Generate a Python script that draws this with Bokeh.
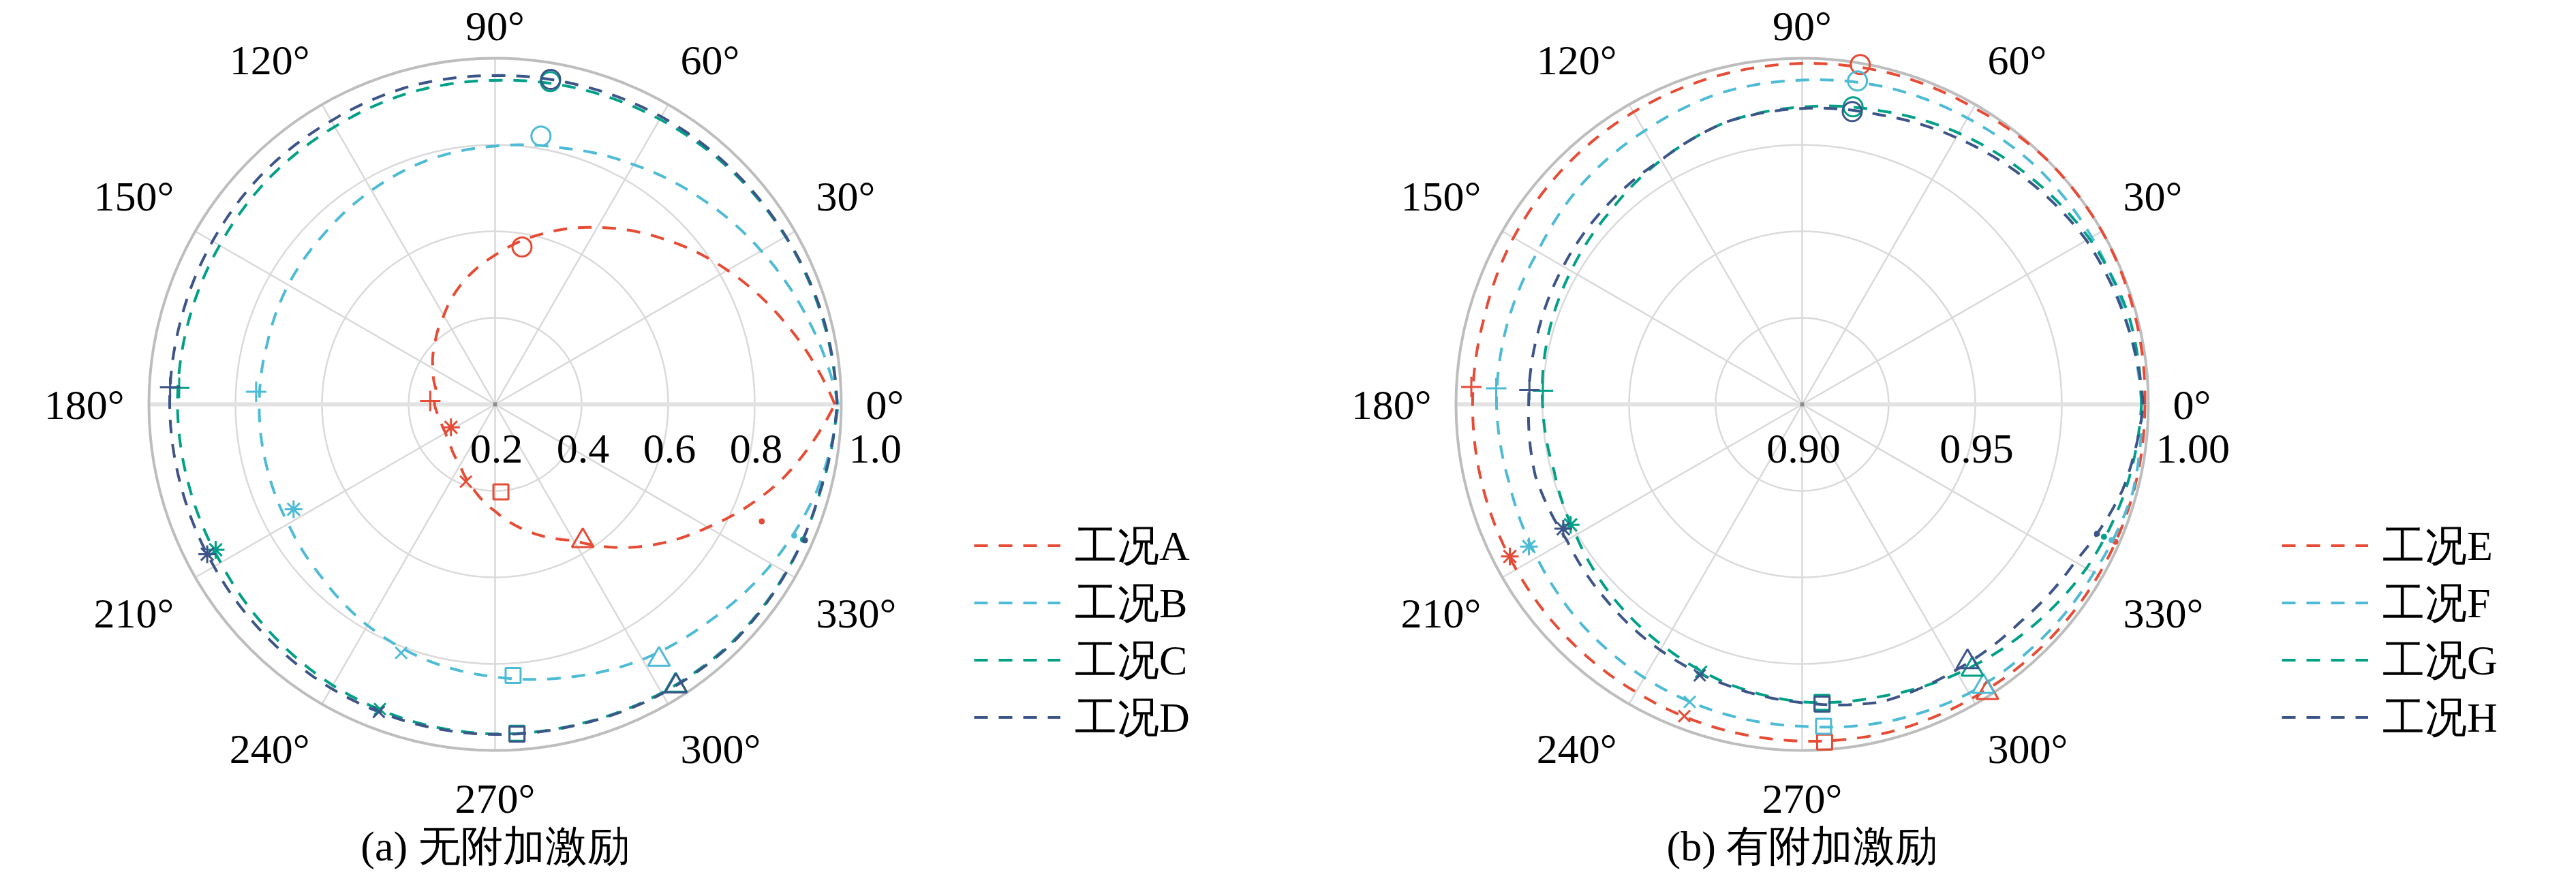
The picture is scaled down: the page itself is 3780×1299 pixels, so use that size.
import math
from bokeh.plotting import figure
from bokeh.models import Range1d, Legend, LegendItem
from bokeh.embed import file_html
from bokeh.resources import INLINE
from bokeh.core.properties import value

# ---------------- data ----------------
theta_deg = [0, 15, 30, 45, 60, 75, 90, 105, 120, 135, 150, 165,
             180, 195, 210, 225, 240, 255, 270, 285, 300, 315, 330, 345]

# (a) without additional excitation, radius axis 0.2 .. 1.0
r_A = [0.985, 0.900, 0.820, 0.743, 0.672, 0.607, 0.545, 0.491, 0.437, 0.397, 0.366, 0.342,
       0.340, 0.332, 0.332, 0.343, 0.362, 0.400, 0.447, 0.505, 0.563, 0.666, 0.768, 0.883]
r_B = [0.993, 0.950, 0.910, 0.873, 0.840, 0.813, 0.797, 0.786, 0.771, 0.758, 0.752, 0.745,
       0.745, 0.747, 0.752, 0.766, 0.790, 0.812, 0.830, 0.853, 0.881, 0.905, 0.938, 0.970]
r_C = [0.990, 0.982, 0.975, 0.968, 0.961, 0.955, 0.949, 0.947, 0.941, 0.939, 0.935, 0.934,
       0.934, 0.932, 0.932, 0.940, 0.950, 0.957, 0.962, 0.964, 0.970, 0.976, 0.976, 0.978]
r_D = [0.990, 0.984, 0.976, 0.971, 0.968, 0.963, 0.960, 0.961, 0.957, 0.957, 0.954, 0.952,
       0.952, 0.950, 0.950, 0.953, 0.958, 0.961, 0.963, 0.965, 0.972, 0.978, 0.977, 0.977]

# (b) with additional excitation, radius axis 0.90 .. 1.00
r_E = [0.9990, 0.9995, 1.0000, 1.0000, 0.9990, 0.9990, 0.9985, 0.9980, 0.9975, 0.9970, 0.9963, 0.9952,
       0.9952, 0.9953, 0.9954, 0.9957, 0.9960, 0.9967, 0.9973, 0.9980, 0.9981, 0.9985, 0.9988, 0.9990]
r_F = [0.9980, 0.9967, 0.9966, 0.9964, 0.9955, 0.9948, 0.9937, 0.9930, 0.9912, 0.9900, 0.9882, 0.9883,
       0.9883, 0.9876, 0.9885, 0.9900, 0.9912, 0.9922, 0.9930, 0.9949, 0.9964, 0.9968, 0.9973, 0.9988]
r_G = [0.9980, 0.9978, 0.9958, 0.9930, 0.9905, 0.9878, 0.9859, 0.9845, 0.9815, 0.9786, 0.9771, 0.9760,
       0.9750, 0.9742, 0.9755, 0.9780, 0.9805, 0.9835, 0.9860, 0.9874, 0.9898, 0.9922, 0.9948, 0.9966]
r_H = [0.9985, 0.9965, 0.9948, 0.9918, 0.9890, 0.9866, 0.9855, 0.9845, 0.9815, 0.9805, 0.9797, 0.9791,
       0.9790, 0.9798, 0.9785, 0.9800, 0.9820, 0.9840, 0.9862, 0.9890, 0.9887, 0.9890, 0.9910, 0.9958]

# marker positions (angle in degrees) and marker radii per series
marker_theta = [80.3, 177.0, 207.5, 249.3, 273.8, 302.7, 336.3]
marker_kinds = ["circle", "cross", "asterisk", "x", "square", "triangle", "dot"]
mk_A = [0.569, 0.350, 0.315, 0.391, 0.403, 0.575, 0.873]
mk_B = [0.829, 0.753, 0.725, 0.814, 0.828, 0.901, 0.955]
mk_C = [0.957, 0.931, 0.928, 0.953, 0.962, 0.972, 0.977]
mk_D = [0.962, 0.952, 0.950, 0.960, 0.964, 0.974, 0.982]
mk_E = [0.9996, 0.9957, 0.9952, 0.9963, 0.9978, 0.9990, 0.9988]
mk_F = [0.9948, 0.9885, 0.9890, 0.9919, 0.9932, 0.9969, 0.9976]
mk_G = [0.9872, 0.9750, 0.9754, 0.9826, 0.9863, 0.9910, 0.9952]
mk_H = [0.9858, 0.9789, 0.9778, 0.9837, 0.9868, 0.9884, 0.9930]

angle_ticks = [0, 30, 60, 90, 120, 150, 180, 210, 240, 270, 300, 330]
angle_labels = ["0°", "30°", "60°", "90°", "120°", "150°", "180°", "210°", "240°", "270°", "300°", "330°"]

rgrid_left = [0.4, 0.6, 0.8, 1.0]
rticks_left = [0.2, 0.4, 0.6, 0.8, 1.0]
rlabels_left = ["0.2", "0.4", "0.6", "0.8", "1.0"]
rgrid_right = [0.925, 0.95, 0.975, 1.0]
rticks_right = [0.90, 0.95, 1.00]
rlabels_right = ["0.90", "0.95", "1.00"]

names_left = ["工况A", "工况B", "工况C", "工况D"]
names_right = ["工况E", "工况F", "工况G", "工况H"]
colors = ["#E64B35", "#4DBBD5", "#00A087", "#3C5488"]
titles = ["(a) 无附加激励", "(b) 有附加激励"]

# ---------------- layout ----------------
W, H, M = 3762, 1281, 8
FONT = "Liberation Serif"


def to_data(px, py):
    return px - M, (H + M) - py


p = figure(width=W, height=H, output_backend="svg", toolbar_location=None,
           x_range=Range1d(0, W), y_range=Range1d(0, H),
           x_axis_location=None, y_axis_location=None, min_border=0)
p.grid.visible = False
p.outline_line_color = None
p.background_fill_color = "white"
p.border_fill_color = "white"

lcx, lcy = to_data(734, 601)
rcx, rcy = to_data(2652, 601)
charts = [
    dict(cx=lcx, cy=lcy, R=508, rmin=0.2, rmax=1.0, rgrid=rgrid_left, rticks=rticks_left,
         rlabels=rlabels_left, series=[r_A, r_B, r_C, r_D], marks=[mk_A, mk_B, mk_C, mk_D],
         names=names_left, title=titles[0], title_px=734, leg_x=1437, leg_top=818.5),
    dict(cx=rcx, cy=rcy, R=508, rmin=0.9, rmax=1.0, rgrid=rgrid_right, rticks=rticks_right,
         rlabels=rlabels_right, series=[r_E, r_F, r_G, r_H], marks=[mk_E, mk_F, mk_G, mk_H],
         names=names_right, title=titles[1], title_px=2652, leg_x=3356, leg_top=818.5),
]


def polar_xy(ch, ths, rs):
    xs, ys = [], []
    for t, r in zip(ths, rs):
        rr = (r - ch["rmin"]) / (ch["rmax"] - ch["rmin"]) * ch["R"]
        a = math.radians(t)
        xs.append(ch["cx"] + rr * math.cos(a))
        ys.append(ch["cy"] + rr * math.sin(a))
    return xs, ys


def closed_path(ch, ths, rs, steps=12):
    # path drawn in polar space between successive data points (polar projection)
    n = len(ths)
    pt, pr = [], []
    for i in range(n):
        t0, r0 = ths[i], rs[i]
        t1 = ths[(i + 1) % n] + (360 if i == n - 1 else 0)
        r1 = rs[(i + 1) % n]
        for k in range(steps):
            f = k / steps
            pt.append(t0 + (t1 - t0) * f)
            pr.append(r0 + (r1 - r0) * f)
    pt.append(ths[0] + 360)
    pr.append(rs[0])
    return polar_xy(ch, pt, pr)


for ch in charts:
    cx, cy, R = ch["cx"], ch["cy"], ch["R"]
    # inner rings
    inner = [(g - ch["rmin"]) / (ch["rmax"] - ch["rmin"]) * R for g in ch["rgrid"][:-1]]
    p.circle(x=[cx] * len(inner), y=[cy] * len(inner), radius=inner,
             fill_color=None, line_color="#dadada", line_width=2.5)
    # spokes
    sx0, sy0, sx1, sy1 = [], [], [], []
    for a in angle_ticks:
        if a in (0, 180):
            continue
        ra = math.radians(a)
        sx0.append(cx); sy0.append(cy)
        sx1.append(cx + R * math.cos(ra)); sy1.append(cy + R * math.sin(ra))
    p.segment(x0=sx0, y0=sy0, x1=sx1, y1=sy1, line_color="#d9d9d9", line_width=2.5)
    p.segment(x0=[cx - R], y0=[cy], x1=[cx + R], y1=[cy], line_color="#e2e2e2", line_width=6)
    # outer ring
    p.circle(x=[cx], y=[cy], radius=[R], fill_color=None, line_color="#bdbdbd", line_width=4)
    p.scatter(x=[cx], y=[cy], marker="square", size=6, fill_color="#8c8c8c", line_color=None)

    # curves
    renderers = []
    for rs, col in zip(ch["series"], colors):
        xs, ys = closed_path(ch, theta_deg, rs)
        rend = p.line(xs, ys, line_color=col, line_width=4, line_dash="20 16")
        renderers.append(rend)
    # markers
    for mk, col in zip(ch["marks"], colors):
        mx, my = polar_xy(ch, marker_theta, mk)
        for x, y, kind in zip(mx, my, marker_kinds):
            if kind == "dot":
                p.scatter(x=[x], y=[y], marker="circle", size=8, fill_color=col, line_color=col)
            else:
                size = {"circle": 28, "cross": 30, "asterisk": 26, "x": 24,
                        "square": 22, "triangle": 32}[kind]
                p.scatter(x=[x], y=[y], marker=kind, size=size, fill_color=None,
                          line_color=col, line_width=3)

    # angular labels
    for a, lab in zip(angle_ticks, angle_labels):
        ra = math.radians(a)
        c, s = math.cos(ra), math.sin(ra)
        RL = R + 14 if a == 90 else R + 36
        align = "left" if c > 0.1 else ("right" if c < -0.1 else "center")
        base = "bottom" if s > 0.1 else ("top" if s < -0.1 else "middle")
        p.text(x=[cx + RL * c], y=[cy + RL * s], text=[lab], text_align=align,
               text_baseline=base, text_font=value(FONT), text_font_size=value("62px"),
               text_color="black")

    # radial tick labels
    n = len(ch["rticks"])
    for i, (rv, lab) in enumerate(zip(ch["rticks"], ch["rlabels"])):
        rr = (rv - ch["rmin"]) / (ch["rmax"] - ch["rmin"]) * R
        if i == n - 1:
            p.text(x=[cx + rr + 11], y=[cy - 65], text=[lab], text_align="left",
                   text_baseline="middle", text_font=value(FONT),
                   text_font_size=value("62px"), text_color="black")
        else:
            p.text(x=[cx + rr + 2], y=[cy - 65], text=[lab], text_align="center",
                   text_baseline="middle", text_font=value(FONT),
                   text_font_size=value("62px"), text_color="black")

    # title
    tx, ty = to_data(ch["title_px"], 1249)
    p.text(x=[tx], y=[ty], text=[ch["title"]], text_align="center", text_baseline="middle",
           text_font=value(FONT), text_font_size=value("62px"), text_color="black")

    # legend
    lx, _ = to_data(ch["leg_x"], 0)
    _, ly = to_data(0, ch["leg_top"] + 4 * 71)
    leg = Legend(items=[LegendItem(label=nm, renderers=[r]) for nm, r in zip(ch["names"], renderers)],
                 location=(lx, ly), glyph_width=127, glyph_height=71, label_height=71,
                 spacing=0, padding=0, margin=0, label_standoff=21,
                 border_line_color=None, background_fill_alpha=0,
                 label_text_font=FONT, label_text_font_size="62px", label_text_color="black")
    p.add_layout(leg)

open("out.html", "w").write(file_html(p, INLINE, title="polar"))
